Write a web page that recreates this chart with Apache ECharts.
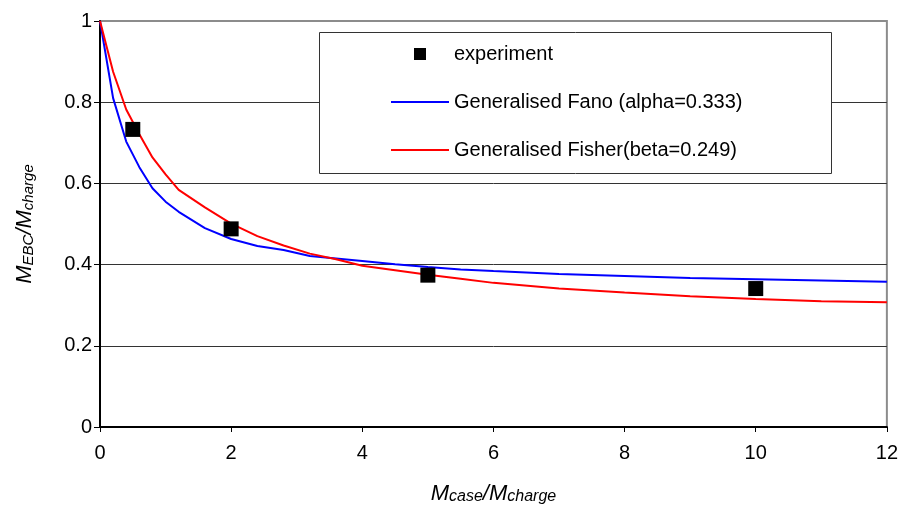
<!DOCTYPE html>
<html>
<head>
<meta charset="utf-8">
<script src="https://cdn.jsdelivr.net/npm/echarts@6/dist/echarts.min.js"></script>
<style>html,body{margin:0;padding:0;background:#fff}#c{width:901px;height:510px}</style>
</head>
<body>
<div id="c"></div>
<script>
// ---- data ----
var curveX   = [0, 0.2, 0.4, 0.6, 0.8, 1.0, 1.2, 1.6, 2.0, 2.4, 2.8, 3.2, 3.6, 4.0, 4.5, 5.0, 5.5, 6.0, 7.0, 8.0, 9.0, 10.0, 11.0, 12.0];
var fanoY    = [1, 0.810, 0.703, 0.640, 0.588, 0.555, 0.530, 0.490, 0.463, 0.446, 0.436, 0.421, 0.415, 0.409, 0.401, 0.394, 0.388, 0.384, 0.377, 0.372, 0.367, 0.364, 0.361, 0.358];
var fisherY  = [1, 0.875, 0.782, 0.721, 0.664, 0.622, 0.584, 0.541, 0.501, 0.470, 0.447, 0.427, 0.413, 0.397, 0.386, 0.375, 0.365, 0.355, 0.341, 0.331, 0.322, 0.315, 0.310, 0.307];
var expX     = [0.5, 2, 5, 10];
var expY     = [0.733, 0.488, 0.374, 0.341];
var seriesNames = ['experiment', 'Generalised Fano (alpha=0.333)', 'Generalised Fisher(beta=0.249)'];

function pairs(xs, ys) { return xs.map(function (x, i) { return [x, ys[i]]; }); }

var FONT = '"Liberation Sans", Arial, sans-serif';
var chart = echarts.init(document.getElementById('c'), null, {renderer: 'canvas'});
chart.setOption({
  animation: false,
  backgroundColor: '#fff',
  grid: {left: 100, right: 14, top: 21, bottom: 81, show: true, borderColor: '#8c8c8c', borderWidth: 2, backgroundColor: 'transparent'},
  xAxis: {
    type: 'value', min: 0, max: 12, interval: 2,
    axisLine: {show: true, onZero: false, lineStyle: {color: '#000', width: 2}},
    axisTick: {show: true, length: 5, lineStyle: {color: '#000', width: 1}},
    axisLabel: {color: '#000', fontSize: 20, fontFamily: FONT, margin: 16},
    splitLine: {show: false},
    name: '{a|M}{b|case}{a|/M}{b|charge}',
    nameLocation: 'middle', nameGap: 56,
    nameTextStyle: {
      rich: {
        a: {fontSize: 22, fontStyle: 'italic', fontFamily: FONT, color: '#000', lineHeight: 22, verticalAlign: 'top'},
        b: {fontSize: 16, fontStyle: 'italic', fontFamily: FONT, color: '#000', lineHeight: 16, verticalAlign: 'bottom'}
      },
      lineHeight: 26
    }
  },
  yAxis: {
    type: 'value', min: 0, max: 1, interval: 0.2,
    axisLine: {show: true, onZero: false, lineStyle: {color: '#000', width: 2}},
    axisTick: {show: true, length: 6, lineStyle: {color: '#000', width: 1}},
    axisLabel: {color: '#000', fontSize: 20, fontFamily: FONT, margin: 8},
    splitLine: {show: true, showMaxLine: false, lineStyle: {color: '#333', width: 1}},
    name: '{a|M}{b|EBC}{a|/M}{b|charge}',
    nameLocation: 'middle', nameGap: 64, nameRotate: 90,
    nameTextStyle: {
      rich: {
        a: {fontSize: 22, fontStyle: 'italic', fontFamily: FONT, color: '#000', lineHeight: 22, verticalAlign: 'top'},
        b: {fontSize: 15, fontStyle: 'italic', fontFamily: FONT, color: '#000', lineHeight: 15, verticalAlign: 'bottom'}
      },
      lineHeight: 26
    }
  },
  graphic: [{
    type: 'rect', z: 5,
    shape: {x: 319.5, y: 32.5, width: 512, height: 141},
    style: {fill: '#fff', stroke: '#333', lineWidth: 1}
  }],
  legend: {
    z: 10, orient: 'vertical', left: 386, top: 39, padding: 5,
    itemWidth: 58, itemHeight: 12, itemGap: 28,
    symbolKeepAspect: true,
    textStyle: {fontSize: 20, lineHeight: 20, fontFamily: FONT, color: '#000'},
    data: [
      {name: seriesNames[0], icon: 'path://M0,0L10,0L10,10L0,10Z'},
      {name: seriesNames[1], icon: 'path://M0,0L58,0L58,2L0,2Z'},
      {name: seriesNames[2], icon: 'path://M0,0L58,0L58,2L0,2Z'}
    ]
  },
  series: [
    {
      name: seriesNames[1], type: 'line', data: pairs(curveX, fanoY),
      symbol: 'none', smooth: false, z: 2,
      lineStyle: {color: '#0000ff', width: 2}, itemStyle: {color: '#0000ff'}
    },
    {
      name: seriesNames[2], type: 'line', data: pairs(curveX, fisherY),
      symbol: 'none', smooth: false, z: 3,
      lineStyle: {color: '#ff0000', width: 2}, itemStyle: {color: '#ff0000'}
    },
    {
      name: seriesNames[0], type: 'scatter', data: pairs(expX, expY),
      symbol: 'rect', symbolSize: 15, z: 4,
      itemStyle: {color: '#000', opacity: 1}
    }
  ]
});
</script>
</body>
</html>
